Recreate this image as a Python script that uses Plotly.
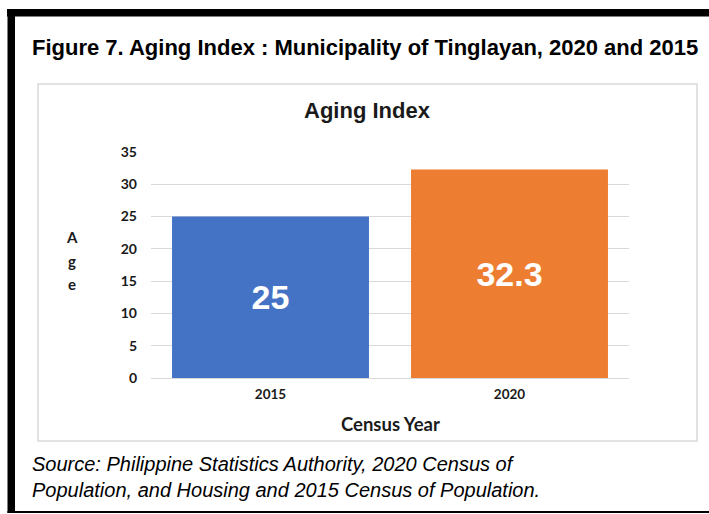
import plotly.graph_objects as go

# Data
years = ["2015", "2020"]
aging_index = [25, 32.3]
value_labels = ["25", "32.3"]
bar_colors = ["#4472C4", "#ED7D31"]
y_ticks = [0, 5, 10, 15, 20, 25, 30, 35]
y_title_letters = ["A", "g", "e"]

W, H = 709, 514

def px(x):
    return x / W

def py(y):
    return 1 - y / H

fig = go.Figure()
fig.add_trace(go.Bar(
    x=years, y=aging_index,
    marker=dict(color=bar_colors, line=dict(width=0)),
    text=value_labels, textposition="inside", insidetextanchor="middle",
    textangle=0, constraintext="none",
    textfont=dict(family="Liberation Sans", size=34, color="white", weight="bold"),
    width=0.824,
))

fig.update_layout(
    template="none",
    width=W, height=H, autosize=False,
    margin=dict(l=0, r=0, t=0, b=0, pad=0, autoexpand=False),
    paper_bgcolor="white", plot_bgcolor="white",
    showlegend=False,
    uniformtext=dict(mode=False),
    xaxis=dict(type="category", domain=[px(151), px(629)], showgrid=False, showline=False,
               zeroline=False, automargin=False, ticks="", ticklabelstandoff=6,
               tickfont=dict(family="Lato", size=13.5, color="#1a1a1a", weight="bold")),
    yaxis=dict(domain=[py(378), py(152)], range=[0, 35], tickvals=y_ticks,
               showgrid=True, gridcolor="#d9d9d9", gridwidth=1,
               zeroline=True, zerolinecolor="#d9d9d9", zerolinewidth=1,
               automargin=False, showline=False, ticks="", ticklabelstandoff=13,
               tickfont=dict(family="Lato", size=14, color="#1a1a1a", weight="bold")),
    font=dict(family="Liberation Sans"),
)

shapes = [
    # inner chart box
    dict(type="rect", xref="paper", yref="paper", x0=px(38), x1=px(697), y0=py(441), y1=py(84),
         line=dict(color="#d9d9d9", width=1.5), fillcolor="rgba(0,0,0,0)", layer="below"),
    # black frame
    dict(type="rect", xref="paper", yref="paper", x0=px(7), x1=px(709), y0=py(16.5), y1=py(9),
         line=dict(width=0), fillcolor="black"),
    dict(type="rect", xref="paper", yref="paper", x0=px(7.5), x1=px(15), y0=py(513), y1=py(9),
         line=dict(width=0), fillcolor="black"),
    dict(type="rect", xref="paper", yref="paper", x0=px(7.5), x1=px(709), y0=py(513), y1=py(511),
         line=dict(width=0), fillcolor="black"),
]
fig.update_layout(shapes=shapes)

annotations = [
    dict(text="<b>Figure 7. Aging Index : Municipality of Tinglayan, 2020 and 2015</b>",
         x=px(30), y=py(47), xanchor="left", yanchor="middle",
         font=dict(family="Liberation Sans", size=22, color="black")),
    dict(text="<b>Aging Index</b>", x=px(367), y=py(110), xanchor="center", yanchor="middle",
         font=dict(family="Liberation Sans", size=22, color="#1a1a1a")),
    dict(text="<b>Census Year</b>", x=px(390), y=py(424), xanchor="center", yanchor="middle",
         font=dict(family="Lato", size=18.5, color="#1a1a1a")),
    dict(text="<i>Source: Philippine Statistics Authority, 2020 Census of<br>Population, and Housing and 2015 Census of Population.</i>",
         x=px(30), y=py(477), xanchor="left", yanchor="middle", align="left",
         font=dict(family="Liberation Sans", size=20, color="black")),
]
for letter, yy in zip(y_title_letters, [237, 261, 284]):
    annotations.append(dict(text="<b>" + letter + "</b>", x=px(72), y=py(yy),
                            xanchor="center", yanchor="middle",
                            font=dict(family="Lato", size=15, color="#1a1a1a")))
for a in annotations:
    a.update(xref="paper", yref="paper", showarrow=False)
fig.update_layout(annotations=annotations)

fig.write_html("out.html", config={"displayModeBar": False},
               post_script="document.body.style.margin='0';")
